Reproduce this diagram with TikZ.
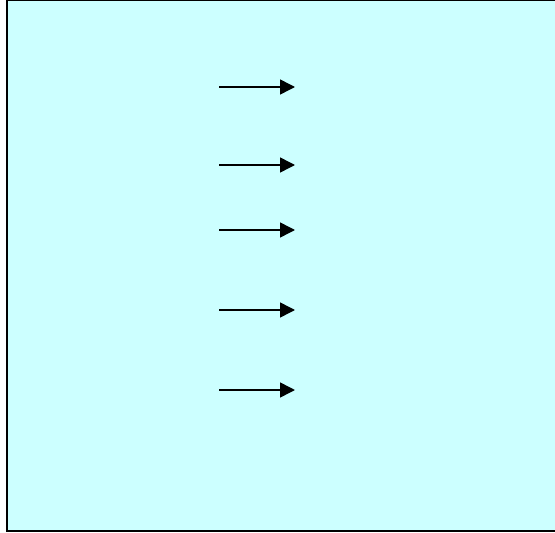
\documentclass[tikz,border=0pt]{standalone}
\usetikzlibrary{arrows.meta}
\definecolor{panelfill}{HTML}{CCFFFF}
\tikzset{
  panel/.style={fill=panelfill, draw=black, line width=1.6pt},
  flowarrow/.style={draw=black, line width=1.5pt, -{Triangle[length=15pt 0, width=15pt 0]}}
}
\begin{document}
\begin{tikzpicture}[x=1pt, y=-1pt]
\useasboundingbox (0,0) rectangle (555,533);
\path[panel] (7,0) rectangle (560,531);
\foreach \i/\yy in {a/87, b/165, c/230, d/310, e/390} {
  \coordinate (s\i) at (219,\yy);
  \coordinate (t\i) at (295,\yy);
  \draw[flowarrow] (s\i) -- (t\i);
}
\end{tikzpicture}
\end{document}
